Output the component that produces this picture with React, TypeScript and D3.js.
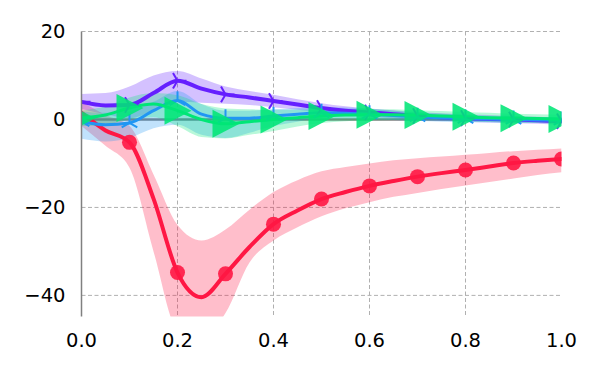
import { useEffect, useRef } from "react";
import * as d3 from "d3";

// sample positions (line drawn through all, markers every 0.1)
const xs = [0, 0.05, 0.1, 0.15, 0.2, 0.25, 0.3, 0.35, 0.4, 0.45, 0.5, 0.55, 0.6, 0.65, 0.7, 0.75, 0.8, 0.85, 0.9, 0.95, 1.0];

const redMean = [1.5, -2.5, -5.2, -18.0, -34.8, -40.4, -35.1, -29.0, -23.8, -20.7, -18.1, -16.5, -15.1, -14.0, -13.0, -12.2, -11.5, -10.7, -9.9, -9.4, -9.0];
const redUpper = [4, 1, -1.5, -12.5, -24, -27.5, -25, -20.5, -16.5, -13.8, -11.8, -10.8, -10, -9.3, -8.8, -8.4, -8, -7.6, -7.2, -6.9, -6.6];
const redLower = [-1.5, -6, -11, -30, -48, -50, -44, -32.5, -27.5, -24.5, -22, -20.2, -18.8, -17.6, -16.7, -15.8, -15, -14.2, -13.4, -12.6, -12];

const purpleMean = [4.0, 3.2, 3.3, 6.0, 8.8, 7.0, 5.7, 5.0, 4.2, 3.4, 2.6, 2.0, 1.6, 1.2, 0.8, 0.5, 0.3, 0.1, 0, -0.2, -0.4];
const purpleUpper = [5.8, 6.0, 7.5, 10.0, 11.0, 9.3, 7.5, 6.5, 5.6, 4.6, 3.7, 3.0, 2.5, 2.1, 1.7, 1.4, 1.2, 1.0, 0.8, 0.6, 0.4];
const purpleLower = [2.4, 1.2, 0.3, 2.0, 4.0, 3.8, 3.6, 3.3, 2.8, 2.2, 1.6, 1.1, 0.7, 0.3, 0, -0.3, -0.5, -0.7, -0.8, -1.0, -1.2];

const blueMean = [-0.5, -1.2, -0.8, 2.0, 4.3, 1.2, 0.3, 0.3, 0.8, 1.2, 1.5, 1.4, 1.2, 0.9, 0.6, 0.4, 0.2, 0.1, 0, -0.1, -0.2];
const blueUpper = [1.8, 1.5, 1.8, 4.0, 6.5, 3.5, 2.0, 2.0, 2.3, 2.6, 2.8, 2.7, 2.4, 2.0, 1.6, 1.3, 1.0, 0.8, 0.6, 0.5, 0.4];
const blueLower = [-4.4, -5.0, -4.2, -2.0, -1.2, -3.5, -4.2, -3.0, -1.5, -0.5, 0.2, 0.2, 0.1, -0.1, -0.3, -0.5, -0.6, -0.7, -0.8, -0.8, -0.9];

const greenMean = [0.3, 1.0, 2.6, 3.5, 2.0, 0, -1.0, -0.5, 0, 0.4, 0.8, 1.0, 1.1, 1.1, 1.0, 0.8, 0.6, 0.4, 0.3, 0.2, 0.1];
const greenUpper = [2.0, 3.0, 5.0, 6.0, 5.5, 3.5, 2.5, 2.3, 2.2, 2.2, 2.3, 2.4, 2.4, 2.3, 2.1, 1.9, 1.7, 1.5, 1.3, 1.2, 1.1];
const greenLower = [-1.5, -1.2, 0, 0.5, -1.5, -4.0, -4.3, -3.5, -2.6, -1.6, -0.8, -0.4, -0.2, -0.1, -0.1, -0.2, -0.4, -0.6, -0.7, -0.8, -0.9];

const xTicks = [0, 0.2, 0.4, 0.6, 0.8, 1.0];
const yTicks = [-40, -20, 0, 20];

// markers every 0.1; red one starts at 0.1
const series = [
  { name: "red", color: "#ff1744", mean: redMean, lo: redLower, hi: redUpper, marker: "circle", width: 4, first: 2 },
  { name: "purple", color: "#651fff", mean: purpleMean, lo: purpleLower, hi: purpleUpper, marker: "tri_right", width: 4, first: 0 },
  { name: "blue", color: "#2196f3", mean: blueMean, lo: blueLower, hi: blueUpper, marker: "tri_up", width: 3, first: 0 },
  { name: "green", color: "#00e676", mean: greenMean, lo: greenLower, hi: greenUpper, marker: "triangle", width: 3, first: 0 },
];

const App = () => {
  const ref = useRef(null);
  const width = 600;
  const height = 375;

  useEffect(() => {
    if (!ref.current) return;
    const svg = d3.select(ref.current);
    svg.selectAll("*").remove();

    const x = d3.scaleLinear().domain([0, 1]).range([81.5, 561.5]);
    const y = d3.scaleLinear().domain([-44.8, 20]).range([316.5, 31.5]);
    const [x0, x1] = x.range();
    const [yb, yt] = y.range();

    svg.append("defs").append("clipPath").attr("id", "plot")
      .append("rect").attr("x", x0).attr("y", yt).attr("width", x1 - x0).attr("height", yb - yt);

    // grid
    const grid = svg.append("g").attr("stroke", "#b0b0b0").attr("stroke-width", 1).attr("stroke-dasharray", "4,2.5");
    xTicks.filter((t) => t > 0 && t < 1).forEach((t) => {
      grid.append("line").attr("x1", x(t)).attr("x2", x(t)).attr("y1", yt).attr("y2", yb);
    });
    yTicks.filter((t) => t !== 0).forEach((t) => {
      grid.append("line").attr("x1", x0).attr("x2", x1).attr("y1", y(t)).attr("y2", y(t));
    });

    // zero line
    svg.append("line").attr("x1", x0).attr("x2", x1).attr("y1", y(0)).attr("y2", y(0))
      .attr("stroke", "#808080").attr("stroke-width", 2.5);

    const plot = svg.append("g").attr("clip-path", "url(#plot)");

    const area = d3.area<number>()
      .x((_, i) => x(xs[i]))
      .curve(d3.curveMonotoneX);
    const line = d3.line<number>()
      .x((_, i) => x(xs[i]))
      .y((d) => y(d))
      .curve(d3.curveMonotoneX);

    series.forEach((s) => {
      plot.append("path")
        .attr("d", area.y0((_, i) => y(s.lo[i])).y1((_, i) => y(s.hi[i]))(s.mean))
        .attr("fill", s.color).attr("fill-opacity", 0.28);
    });

    series.forEach((s) => {
      plot.append("path").attr("d", line(s.mean))
        .attr("fill", "none").attr("stroke", s.color).attr("stroke-width", s.width)
        .attr("stroke-linejoin", "round").attr("stroke-linecap", "round");
    });

    series.forEach((s) => {
      const pts = s.mean.map((v, i) => [xs[i], v]).filter((_, i) => i % 2 === 0 && i >= s.first);
      const g = plot.append("g");
      pts.forEach(([px, py]) => {
        const cx = x(px);
        const cy = y(py);
        if (s.marker === "circle") {
          g.append("circle").attr("cx", cx).attr("cy", cy).attr("r", 7.5)
            .attr("fill", s.color).attr("fill-opacity", 0.9);
        } else if (s.marker === "triangle") {
          g.append("path")
            .attr("d", `M${cx + 14},${cy} L${cx - 13},${cy - 14} L${cx - 13},${cy + 14} Z`)
            .attr("fill", s.color).attr("fill-opacity", 0.88);
        } else {
          const r = 9;
          const angles = s.marker === "tri_right" ? [0, 120, 240] : [-90, 30, 150];
          angles.forEach((a) => {
            const rad = (a * Math.PI) / 180;
            g.append("line").attr("x1", cx).attr("y1", cy)
              .attr("x2", cx + r * Math.cos(rad)).attr("y2", cy + r * Math.sin(rad))
              .attr("stroke", s.color).attr("stroke-width", 2);
          });
        }
      });
    });

    // left spine
    svg.append("line").attr("x1", x0).attr("x2", x0).attr("y1", yt).attr("y2", yb)
      .attr("stroke", "#808080").attr("stroke-width", 1.5);

    const fmtY = (t: number) => (t < 0 ? "\u2212" + Math.abs(t) : String(t));
    svg.append("g").selectAll("text").data(yTicks).join("text")
      .attr("x", x0 - 16).attr("y", (d) => y(d)).attr("dy", "0.35em")
      .attr("text-anchor", "end").attr("font-family", "DejaVu Sans").attr("font-size", 19.5)
      .attr("fill", "#000").text(fmtY);

    svg.append("g").selectAll("text").data(xTicks).join("text")
      .attr("x", (d) => x(d)).attr("y", yb + 17).attr("dy", "0.71em")
      .attr("text-anchor", "middle").attr("font-family", "DejaVu Sans").attr("font-size", 19.5)
      .attr("fill", "#000").text((d) => d.toFixed(1));
  }, []);

  return <svg ref={ref} width={width} height={height} style={{ display: "block", position: "absolute", left: 0, top: 0 }}></svg>;
};

export default App;
